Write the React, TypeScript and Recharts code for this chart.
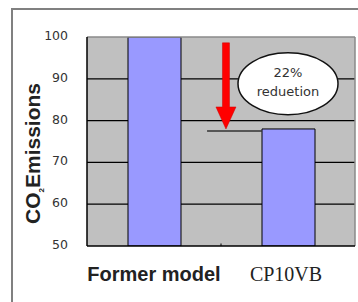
import React from 'react';
import { ComposedChart, Bar, XAxis, YAxis, CartesianGrid, ReferenceLine, ReferenceDot } from 'recharts';

const categories = ['Former model', 'CP10VB'];
const positions = [0.5, 1.5];
const emissions = [100, 78];
const yTicks = [50, 60, 70, 80, 90, 100];
const reductionLabel = ['22%', 'reduetion'];
const yLabel = { main: 'CO', sub: '2', rest: 'Emissions' };
const reducedLevel = 78;
const arrowTopValue = 98.6;
const bubbleValue = 88.8;

const data = categories.map((name, i) => ({ name, x: positions[i], value: emissions[i] }));

const XTick = (props: any) => {
  const { x, y, payload, index } = props;
  const serif = index === 1;
  return (
    <text
      x={serif ? x - 2 : x}
      y={y + 27}
      textAnchor="middle"
      fill="#222"
      fontFamily={serif ? '"Liberation Serif", serif' : '"Liberation Sans", Arial, sans-serif'}
      fontWeight={serif ? 'normal' : 'bold'}
      fontSize={20}
    >
      {categories[positions.indexOf(payload.value)]}
    </text>
  );
};

const YTick = (props: any) => {
  const { x, y, payload } = props;
  return (
    <text x={x} y={y + 3} textAnchor="end" fill="#333" fontFamily='"DejaVu Sans", sans-serif' fontSize={12.5}>
      {payload.value}
    </text>
  );
};

const YLabel = (props: any) => {
  const vb = props.viewBox || { x: 0, y: 37, width: 87, height: 209 };
  const cx = vb.x + 40;
  const cy = vb.y + vb.height / 2 + 12;
  return (
    <text
      x={cx}
      y={cy}
      transform={`rotate(-90 ${cx} ${cy})`}
      textAnchor="middle"
      fill="#222"
      fontFamily='"Liberation Sans", Arial, sans-serif'
      fontWeight="bold"
      fontSize={21}
    >
      {yLabel.main}
      <tspan fontSize={8} dy={4}>{yLabel.sub}</tspan>
      <tspan dy={-4}>{yLabel.rest}</tspan>
    </text>
  );
};

const Arrow = (props: any) => {
  const { x1, y1, x2, y2 } = props;
  const x = (x1 + x2) / 2;
  const top = Math.min(y1, y2);
  const tip = Math.max(y1, y2);
  const headH = 22;
  const shaftW = 3.5;
  const headW = 10;
  const pts = [
    [x - shaftW, top],
    [x + shaftW, top],
    [x + shaftW, tip - headH],
    [x + headW, tip - headH],
    [x, tip],
    [x - headW, tip - headH],
    [x - shaftW, tip - headH],
  ]
    .map((p) => p.join(','))
    .join(' ');
  return <polygon points={pts} fill="#ff0000" stroke="#cc0000" strokeWidth={0.5} />;
};

const Bubble = (props: any) => {
  const { cx, cy } = props;
  return (
    <g>
      <ellipse cx={cx} cy={cy} rx={50} ry={31} fill="#ffffff" stroke="#111" strokeWidth={1.5} />
      <text x={cx} y={cy - 7} textAnchor="middle" fill="#333" fontFamily='"DejaVu Sans", sans-serif' fontSize={13}>
        {reductionLabel[0]}
      </text>
      <text x={cx} y={cy + 12} textAnchor="middle" fill="#333" fontFamily='"DejaVu Sans", sans-serif' fontSize={13}>
        {reductionLabel[1]}
      </text>
    </g>
  );
};

export default function App() {
  return (
    <div style={{ position: 'absolute', left: 0, top: 0, width: 358, height: 302, background: '#fff' }}>
      <div
        style={{
          position: 'absolute',
          left: 11,
          top: 8,
          width: 347,
          height: 294,
          borderLeft: '2px solid #808080',
          borderTop: '2px solid #808080',
          boxSizing: 'border-box',
        }}
      />
      <div style={{ position: 'absolute', left: 0, top: 0 }}>
        <ComposedChart width={358} height={302} data={data} margin={{ top: 37, right: 3, bottom: 0, left: 0 }}>
          <CartesianGrid fill="#c0c0c0" vertical={false} stroke="#000" strokeWidth={1.2} horizontalValues={[60, 70, 80, 90]} />
          <XAxis
            dataKey="x"
            type="number"
            domain={[0, 2]}
            ticks={positions}
            height={56}
            axisLine={{ stroke: '#000', strokeWidth: 1.5 }}
            tickLine={false}
            tick={<XTick />}
            allowDataOverflow
          />
          <YAxis
            domain={[50, 100]}
            ticks={yTicks}
            width={87}
            axisLine={{ stroke: '#000', strokeWidth: 1.5 }}
            tickLine={false}
            tickSize={0}
            tickMargin={19}
            tick={<YTick />}
            allowDataOverflow
            label={<YLabel />}
          />
          <ReferenceLine y={100} stroke="#8a8a8a" strokeWidth={1.5} />
          <ReferenceLine x={2} stroke="#8a8a8a" strokeWidth={1.5} />
          <ReferenceLine
            segment={[
              { x: 1, y: 50 },
              { x: 1, y: 50.6 },
            ]}
            stroke="#000"
          />
          <Bar dataKey="value" fill="#9999ff" stroke="#000" strokeWidth={1} barSize={53} isAnimationActive={false} />
          <ReferenceLine
            segment={[
              { x: 0.896, y: reducedLevel - 0.5 },
              { x: 1.306, y: reducedLevel - 0.5 },
            ]}
            stroke="#333"
            strokeWidth={1.5}
          />
          <ReferenceLine
            segment={[
              { x: 1.037, y: arrowTopValue },
              { x: 1.037, y: reducedLevel },
            ]}
            shape={<Arrow />}
          />
          <ReferenceDot x={1.5} y={bubbleValue} r={1} shape={<Bubble />} />
        </ComposedChart>
      </div>
    </div>
  );
}
